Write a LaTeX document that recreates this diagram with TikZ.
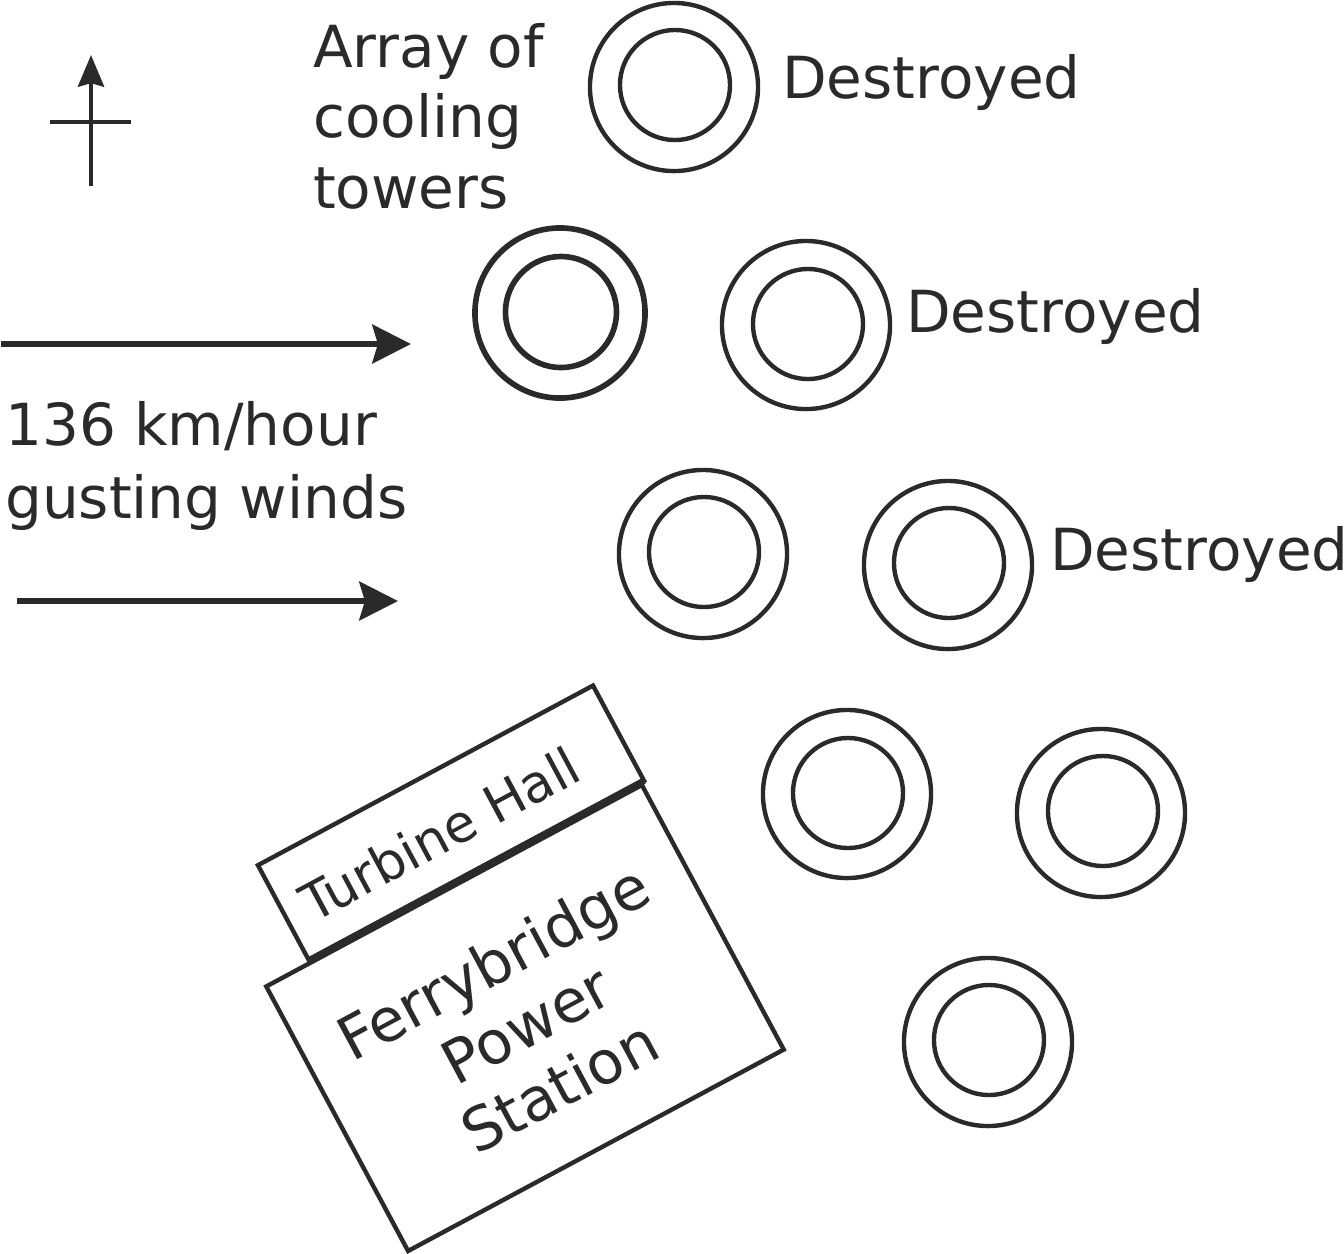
\documentclass[tikz,border=0pt]{standalone}
\usepackage{fontspec}
\setmainfont{DejaVu Sans}
\usetikzlibrary{arrows.meta,positioning}
\definecolor{inkgrey}{HTML}{2B2A29}

\tikzset{
  outring/.style={draw, circle, inner sep=0pt, outer sep=0pt, minimum size=1.68cm},
  inring/.style={draw, circle, inner sep=0pt, outer sep=0pt, minimum size=1.10cm},
  label/.style={font=\fontsize{16.5}{20}\selectfont, inner sep=0pt, align=left},
  block/.style={draw, rectangle, inner sep=0pt, outer sep=0pt, rotate=28.2},
  wind/.style={-{Stealth[length=11pt,width=11pt,inset=1.6pt]}, line width=1.7pt},
}

\begin{document}
\begin{tikzpicture}[x=0.01cm, y=-0.01cm, color=inkgrey, line width=1.25pt]
  \useasboundingbox (0,0) rectangle (1344,1253);

  \node[outring] (T1) at (674,87) {};
  \node[inring] (T1i) at (675,85) {};
  \node[outring, minimum size=1.70cm, line width=1.6pt] (T2) at (560,313) {};
  \node[inring, minimum size=1.11cm, line width=1.6pt] (T2i) at (561,312) {};
  \node[outring] (T3) at (806,325) {};
  \node[inring] (T3i) at (808,324) {};
  \node[outring] (T4) at (703,554) {};
  \node[inring] (T4i) at (704,552) {};
  \node[outring] (T5) at (948,565) {};
  \node[inring] (T5i) at (949,563) {};
  \node[outring] (T6) at (847,794) {};
  \node[inring] (T6i) at (848,793) {};
  \node[outring] (T7) at (1101,813) {};
  \node[inring] (T7i) at (1103,811) {};
  \node[outring] (T8) at (988,1042) {};
  \node[inring] (T8i) at (989,1040) {};

  \node[label, anchor=base west] (D1) at (780,98) {Destroyed};
  \node[label, anchor=base west] (D2) at (904,332) {Destroyed};
  \node[label, anchor=base west] (D3) at (1048,570) {Destroyed};
  \node[label, anchor=base west] (AR) at (311,208) {Array of\\cooling\\towers};
  \node[label, anchor=base west] (WT) at (3,518) {136 km/hour\\[0.6pt]gusting winds};

  \coordinate (N0) at (91,186);
  \coordinate (N1) at (91,55);
  \coordinate (C0) at (50,122);
  \coordinate (C1) at (131,122);
  \draw[-{Stealth[length=9pt,width=7.4pt,inset=1pt]}] (N0) -- (N1);
  \draw (C0) -- (C1);

  \coordinate (W0) at (1,344);
  \coordinate (W1) at (411,344);
  \coordinate (W2) at (17,601);
  \coordinate (W3) at (398,601);
  \draw[wind] (W0) -- (W1);
  \draw[wind] (W2) -- (W3);

  \node[block, minimum width=3.80cm, minimum height=1.08cm] (TH) at (451,823) {};
  \node[block, minimum width=4.26cm, minimum height=3.00cm] (FB) at (525,1018) {};
  \draw[line width=1.9pt] (TH.south west) -- (TH.south east);
  \node[rotate=28.2, inner sep=0pt, font=\fontsize{14.8}{18}\selectfont] (THt) at (440,834) {Turbine Hall};
  \node[rotate=28.2, inner sep=0pt, align=center, font=\fontsize{17}{20}\selectfont] (FBt) at (526,1024)
        {Ferrybridge\\Power\\Station};
\end{tikzpicture}
\end{document}
